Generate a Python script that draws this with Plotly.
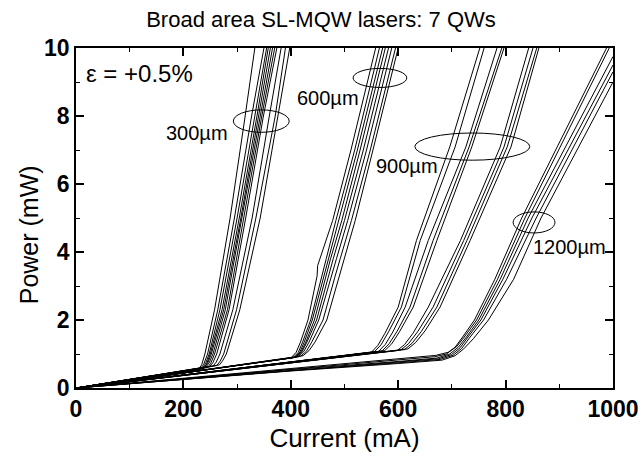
import plotly.graph_objects as go

# L-I curves of broad-area SL-MQW lasers (7 QWs), grouped by cavity length.
# Each curve: current (mA) and optical power (mW) at points.

# 300 um cavities
cur_300 = [
    [0, 228, 234, 240, 258, 287, 315, 333],
    [0, 232, 238, 245, 264, 295, 327, 350],
    [0, 235, 241, 248, 268, 300, 333, 355],
    [0, 237, 243, 250, 272, 304, 337, 358],
    [0, 239, 245, 252, 275, 307, 340, 362],
    [0, 242, 248, 255, 278, 309, 343, 366],
    [0, 245, 251, 258, 282, 312, 346, 370],
    [0, 249, 255, 262, 285, 316, 349, 374],
    [0, 255, 261, 268, 292, 328, 360, 382],
    [0, 262, 268, 275, 299, 335, 371, 390],
    [0, 267, 273, 280, 305, 343, 376, 398],
]
pow_300 = [
    [0, 0.55, 0.68, 1.0, 2.3, 5.0, 8.0, 10],
    [0, 0.57, 0.70, 1.0, 2.3, 5.0, 8.0, 10],
    [0, 0.58, 0.71, 1.0, 2.3, 5.0, 8.0, 10],
    [0, 0.56, 0.70, 1.0, 2.3, 5.0, 8.0, 10],
    [0, 0.60, 0.72, 1.0, 2.3, 5.0, 8.0, 10],
    [0, 0.62, 0.74, 1.0, 2.3, 5.0, 8.0, 10],
    [0, 0.60, 0.73, 1.0, 2.3, 5.0, 8.0, 10],
    [0, 0.63, 0.75, 1.0, 2.3, 5.0, 8.0, 10],
    [0, 0.64, 0.76, 1.0, 2.3, 5.0, 8.0, 10],
    [0, 0.66, 0.78, 1.0, 2.3, 5.0, 8.0, 10],
    [0, 0.68, 0.80, 1.0, 2.3, 5.0, 8.0, 10],
]

# 600 um cavities
cur_600 = [
    [0, 400, 410, 418, 432, 444, 449, 450, 478, 512, 558],
    [0, 404, 414, 422, 437, 452, 458, 466, 484, 519, 565],
    [0, 407, 417, 425, 440, 455, 462, 470, 490, 524, 571],
    [0, 409, 419, 428, 444, 459, 466, 474, 495, 529, 576],
    [0, 411, 421, 430, 448, 463, 470, 479, 500, 535, 582],
    [0, 414, 424, 434, 452, 468, 475, 485, 506, 541, 588],
    [0, 418, 429, 439, 460, 475, 482, 492, 513, 548, 595],
    [0, 423, 434, 445, 467, 483, 490, 499, 520, 553, 600],
]
pow_600 = [
    [0, 0.88, 1.05, 1.35, 2.0, 3.0, 3.3, 3.6, 4.93, 7.0, 10],
    [0, 0.89, 1.05, 1.35, 2.0, 2.9, 3.26, 3.8, 4.93, 7.0, 10],
    [0, 0.90, 1.06, 1.35, 2.0, 2.9, 3.26, 3.8, 4.93, 7.0, 10],
    [0, 0.90, 1.06, 1.35, 2.0, 2.9, 3.26, 3.8, 4.93, 7.0, 10],
    [0, 0.91, 1.07, 1.35, 2.0, 2.9, 3.26, 3.8, 4.93, 7.0, 10],
    [0, 0.92, 1.07, 1.35, 2.0, 2.9, 3.26, 3.8, 4.93, 7.0, 10],
    [0, 0.93, 1.08, 1.35, 2.0, 2.9, 3.26, 3.8, 4.93, 7.0, 10],
    [0, 0.95, 1.10, 1.35, 2.0, 2.9, 3.26, 3.8, 4.93, 7.0, 10],
]

# 900 um cavities
cur_900 = [
    [0, 550, 562, 575, 600, 634, 696, 752],
    [0, 556, 568, 582, 606, 641, 706, 760],
    [0, 563, 576, 590, 613, 656, 726, 784],
    [0, 570, 583, 598, 622, 665, 732, 793],
    [0, 575, 588, 603, 628, 672, 737, 797],
    [0, 598, 612, 628, 656, 716, 790, 843],
    [0, 605, 619, 636, 665, 722, 797, 851],
    [0, 612, 626, 643, 672, 728, 803, 858],
    [0, 618, 632, 650, 678, 734, 810, 862],
]
pow_900 = [
    [0, 1.05, 1.25, 1.60, 2.38, 4.34, 7.09, 10],
    [0, 1.07, 1.27, 1.65, 2.38, 4.34, 7.09, 10],
    [0, 1.07, 1.28, 1.65, 2.38, 4.34, 7.09, 10],
    [0, 1.09, 1.30, 1.67, 2.38, 4.34, 7.09, 10],
    [0, 1.10, 1.30, 1.67, 2.38, 4.34, 7.09, 10],
    [0, 1.10, 1.28, 1.62, 2.38, 4.34, 7.09, 10],
    [0, 1.12, 1.30, 1.65, 2.38, 4.34, 7.09, 10],
    [0, 1.13, 1.32, 1.66, 2.38, 4.34, 7.09, 10],
    [0, 1.15, 1.33, 1.68, 2.38, 4.34, 7.09, 10],
]

# 1200 um cavities
cur_1200 = [
    [0, 400, 600, 668, 690, 706, 720, 742, 780, 830, 988],
    [0, 400, 600, 670, 693, 709, 723, 746, 785, 836, 993],
    [0, 400, 600, 672, 696, 712, 727, 750, 790, 842, 1000],
    [0, 400, 600, 675, 699, 715, 730, 754, 795, 849, 1000],
    [0, 400, 600, 678, 702, 718, 734, 759, 802, 857, 1000],
    [0, 400, 600, 682, 706, 722, 740, 768, 815, 866, 1000],
]
pow_1200 = [
    [0, 0.56, 0.82, 0.92, 1.0, 1.2, 1.5, 2.0, 3.2, 5.0, 10],
    [0, 0.56, 0.84, 0.96, 1.05, 1.22, 1.5, 2.0, 3.2, 5.0, 10],
    [0, 0.54, 0.78, 0.88, 1.0, 1.2, 1.5, 2.0, 3.2, 5.0, 9.75],
    [0, 0.52, 0.76, 0.86, 0.98, 1.18, 1.5, 2.0, 3.2, 5.0, 9.5],
    [0, 0.51, 0.74, 0.84, 0.96, 1.16, 1.5, 2.0, 3.2, 5.0, 9.3],
    [0, 0.50, 0.72, 0.82, 0.95, 1.15, 1.45, 2.0, 3.2, 5.0, 9.0],
]

x_ticks = [0, 200, 400, 600, 800, 1000]
y_ticks = [0, 2, 4, 6, 8, 10]

FONT = "Liberation Sans, Arial, Helvetica, sans-serif"

fig = go.Figure()
for curs, pows in [(cur_300, pow_300), (cur_600, pow_600),
                   (cur_900, pow_900), (cur_1200, pow_1200)]:
    for xs, ys in zip(curs, pows):
        fig.add_trace(go.Scatter(
            x=xs, y=ys, mode="lines",
            line=dict(color="black", width=1),
            showlegend=False, hoverinfo="skip",
        ))

# Ellipses marking each cavity-length bundle: (center I, center P, half-width, half-height)
ellipses = [
    (345, 7.85, 52, 0.33),
    (566, 9.12, 50, 0.28),
    (738, 7.10, 107, 0.40),
    (853, 4.87, 39, 0.31),
]
for cx, cy, ax, ay in ellipses:
    fig.add_shape(type="circle", xref="x", yref="y",
                  x0=cx - ax, x1=cx + ax, y0=cy - ay, y1=cy + ay,
                  line=dict(color="black", width=1))

labels = [
    ("300µm", 226, 7.50),
    ("600µm", 470, 8.53),
    ("900µm", 616, 6.53),
    ("1200µm", 919, 4.15),
]
for txt, lx, ly in labels:
    fig.add_annotation(x=lx, y=ly, text=txt, showarrow=False,
                       xanchor="center", yanchor="middle",
                       font=dict(family=FONT, size=20, color="black"))

fig.add_annotation(x=15, y=9.26, text="ε = +0.5%", showarrow=False,
                   xanchor="left", yanchor="middle",
                   font=dict(family=FONT, size=24, color="black"))

# vertical axis title, sitting a little below the axis midpoint
fig.add_annotation(x=-0.087, xref="paper", y=4.5, yref="y",
                   text="Power (mW)", textangle=-90, showarrow=False,
                   xanchor="center", yanchor="middle",
                   font=dict(family=FONT, size=25, color="black"))

axis_common = dict(
    showline=True, linecolor="black", linewidth=1.5, mirror="allticks",
    ticks="inside", ticklen=8, tickwidth=1.5, tickcolor="black",
    showgrid=False, zeroline=False, automargin=False,
    tickfont=dict(family=FONT, size=23, color="black", weight="bold"),
)

fig.update_xaxes(
    range=[0, 1000], tickvals=x_ticks,
    minor=dict(ticks="inside", ticklen=4, tickwidth=1.2, dtick=100,
               tickcolor="black", showgrid=False),
    title=dict(text="Current (mA)", font=dict(family=FONT, size=26, color="black"),
               standoff=7),
    **axis_common,
)
fig.update_yaxes(
    range=[0, 10], tickvals=y_ticks,
    minor=dict(ticks="inside", ticklen=4, tickwidth=1.2, dtick=1,
               tickcolor="black", showgrid=False),
    **axis_common,
)

fig.update_layout(
    width=642, height=461,
    margin=dict(l=76, r=29, t=48, b=73),
    paper_bgcolor="white", plot_bgcolor="white",
    title=dict(text="Broad area SL-MQW lasers: 7 QWs",
               font=dict(family=FONT, size=22, color="black"),
               x=0.5, xref="container", xanchor="center",
               y=0.958, yref="container", yanchor="middle",
               automargin=False),
)

fig.write_html("out.html")
